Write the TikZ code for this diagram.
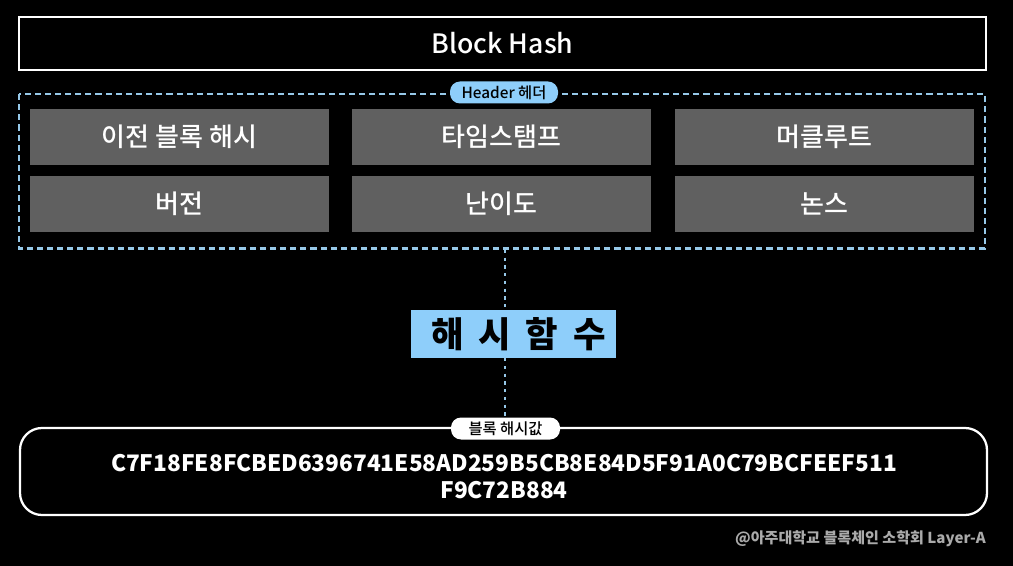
\documentclass[tikz,border=0pt]{standalone}
\usepackage{fontspec}
\setmainfont{Noto Sans CJK KR}
\newfontfamily\medfont{Noto Sans CJK KR Medium}
\definecolor{lblue}{RGB}{142,206,250}
\definecolor{dblue}{RGB}{150,200,232}
\definecolor{gbox}{RGB}{96,96,96}
\definecolor{foot}{RGB}{170,170,170}
\tikzset{
  field/.style={fill=gbox, draw=none, minimum width=299*0.75pt, minimum height=56*0.75pt, text=white, font=\medfont\fontsize{19.5}{21}\selectfont, inner sep=0pt},
  pill/.style={rounded corners=10*0.75pt, minimum height=22*0.75pt, inner sep=0pt, font=\medfont\fontsize{11.5}{13}\selectfont, text=black},
}
\begin{document}
\begin{tikzpicture}[x=0.75pt,y=-0.75pt]
\useasboundingbox (0,0) rectangle (1013,566);
\fill[black] (0,0) rectangle (1013,566);
% Block hash
\node[draw=white, line width=1.7pt, minimum width=967*0.75pt, minimum height=53*0.75pt, text=white, font=\medfont\fontsize{20}{22}\selectfont, inner sep=0pt] (bh) at (502.5,43.5) {Block Hash};
% header dashed box
\draw[dblue, line width=1.7pt, dash pattern=on 4.6pt off 3pt] (19,94) rectangle (985,248.5);
\node[pill, fill=lblue, minimum width=108*0.75pt] (hl) at (504,92.5) {Header 헤더};
% fields
\node[field] (f1) at (179.5,137) {이전 블록 해시};
\node[field] (f2) at (501.5,137) {타임스탬프};
\node[field] (f3) at (824.5,137) {머클루트};
\node[field] (f4) at (179.5,204) {버전};
\node[field] (f5) at (501.5,204) {난이도};
\node[field] (f6) at (824.5,204) {논스};
% connector
\coordinate (c1) at (505,250);
\coordinate (c2) at (505,426);
\draw[dblue, line width=2.2pt, dash pattern=on 2.4pt off 3.4pt] (c1) -- (c2);
% hash function
\node[fill=lblue, minimum width=205*0.75pt, minimum height=48*0.75pt, inner sep=0pt, font=\fontsize{26.5}{28}\selectfont\bfseries, text=black] (hf) at (513.5,334) {\hspace{7.5pt}해\hspace{0.42em}시\hspace{0.42em}함\hspace{0.42em}수};
% result box
\draw[white, line width=1.7pt, rounded corners=22*0.75pt] (20,428) rectangle (987,515);
\node[pill, fill=white, minimum width=109*0.75pt] (rl) at (505.5,428.5) {블록 해시값};
\node[text=white, align=center, font=\fontsize{17}{20.5}\selectfont\bfseries, inner sep=0pt] (hv) at (504,476.5) {C7F18FE8FCBED6396741E58AD259B5CB8E84D5F91A0C79BCFEEF511\\F9C72B884};
% footer
\node[anchor=east, text=foot, font=\fontsize{11.3}{13}\selectfont\bfseries, inner sep=0pt] (ft) at (986,539) {@아주대학교 블록체인 소학회 Layer-A};
\end{tikzpicture}
\end{document}
